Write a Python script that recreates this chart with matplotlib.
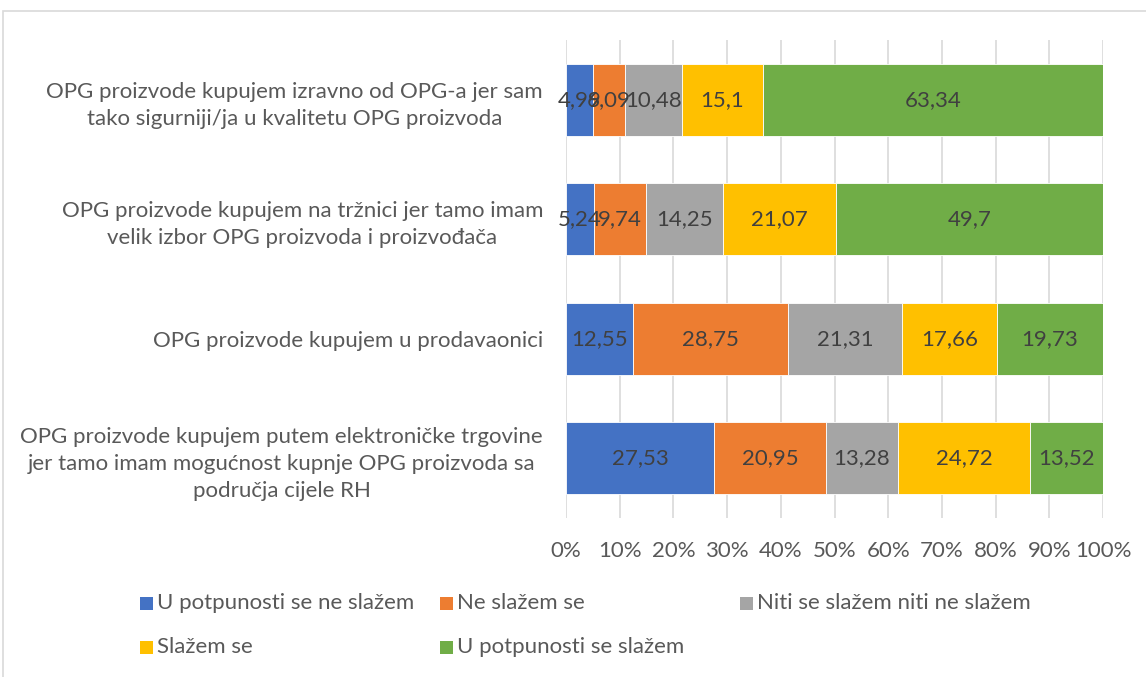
import matplotlib.pyplot as plt
from matplotlib.patches import Rectangle
import numpy as np

plt.rcParams['font.family'] = ['Lato', 'DejaVu Sans']

# pitanja (odozgo prema dolje)
categories = [
    'OPG proizvode kupujem izravno od OPG-a jer sam\ntako sigurniji/ja u kvalitetu OPG proizvoda',
    'OPG proizvode kupujem na tržnici jer tamo imam\nvelik izbor OPG proizvoda i proizvođača',
    'OPG proizvode kupujem u prodavaonici',
    'OPG proizvode kupujem putem elektroničke trgovine\njer tamo imam mogućnost kupnje OPG proizvoda sa\npodručja cijele RH',
]

series_names = ['U potpunosti se ne slažem', 'Ne slažem se',
                'Niti se slažem niti ne slažem', 'Slažem se',
                'U potpunosti se slažem']

ne_slazem_uopce = [4.99, 5.24, 12.55, 27.53]
ne_slazem = [6.09, 9.74, 28.75, 20.95]
niti = [10.48, 14.25, 21.31, 13.28]
slazem = [15.1, 21.07, 17.66, 24.72]
slazem_potpuno = [63.34, 49.7, 19.73, 13.52]

colors = ['#4472C4', '#ED7D31', '#A5A5A5', '#FFC000', '#70AD47']

values = [ne_slazem_uopce, ne_slazem, niti, slazem, slazem_potpuno]

W, H = 1146, 677
fig = plt.figure(figsize=(W / 100, H / 100), dpi=100)
ax = fig.add_axes([566 / W, 1 - 518 / H, (1103 - 566) / W, (518 - 40) / H])

# okvir grafikona
fig.patches.append(Rectangle((3 / W, -0.1), 1.2, 1 - 11 / H + 0.1,
                             transform=fig.transFigure, fill=False,
                             edgecolor='#D9D9D9', linewidth=1.2))

y = np.arange(len(categories))
left = np.zeros(len(categories))
for vals, col in zip(values, colors):
    vals = np.array(vals)
    ax.barh(y, vals, left=left, height=0.6, color=col,
            edgecolor='white', linewidth=0.6, zorder=3)
    for yi, l, v in zip(y, left, vals):
        ax.text(l + v / 2, yi, f'{v:g}'.replace('.', ','), ha='center',
                va='center', fontsize=16, color='#404040', zorder=4)
    left += vals

ax.set_xlim(0, 100)
ax.set_ylim(3.5, -0.5)
ax.set_xticks(np.arange(0, 101, 10))
ax.set_xticklabels([f'{t}%' for t in range(0, 101, 10)])
ax.grid(axis='x', color='#D9D9D9', linewidth=1.2, zorder=0)
ax.set_yticks(y)
ax.set_yticklabels(categories, multialignment='center', linespacing=1.45)
for s in ax.spines.values():
    s.set_visible(False)
ax.tick_params(axis='x', length=0, pad=16.5, labelsize=16, labelcolor='#595959')
ax.tick_params(axis='y', length=0, pad=16.5, labelsize=16, labelcolor='#595959')

# legenda
legend_pos = [(140, 603), (440, 603), (740, 603), (140, 647), (440, 647)]
for (lx, ly), name, col in zip(legend_pos, series_names, colors):
    fig.patches.append(Rectangle((lx / W, 1 - (ly + 6.5) / H), 13 / W, 13 / H,
                                 transform=fig.transFigure, facecolor=col,
                                 edgecolor='none'))
    fig.text((lx + 17) / W, 1 - ly / H, name, ha='left', va='center',
             fontsize=16, color='#595959')

fig.savefig('out.png', dpi=100)
